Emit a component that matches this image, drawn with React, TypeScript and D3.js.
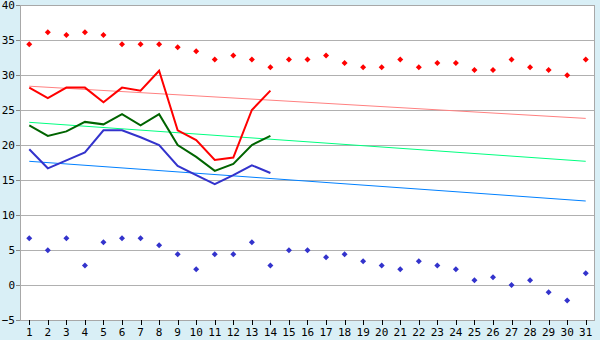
import React from "react";
import * as d3 from "d3";

const days = d3.range(1, 32).map(String);
const yTicks = [-5, 0, 5, 10, 15, 20, 25, 30, 35, 40];

// record highs / lows (markers)
const recordMax = [34.4, 36.1, 35.7, 36.1, 35.7, 34.4, 34.4, 34.4, 33.95, 33.4, 32.2, 32.8, 32.2, 31.1, 32.2, 32.2, 32.8, 31.7, 31.1, 31.1, 32.2, 31.1, 31.7, 31.7, 30.7, 30.7, 32.2, 31.1, 30.7, 29.95, 32.2];
const recordMin = [6.67, 4.95, 6.67, 2.8, 6.1, 6.67, 6.67, 5.67, 4.4, 2.24, 4.4, 4.4, 6.1, 2.8, 4.95, 4.95, 3.95, 4.4, 3.38, 2.8, 2.24, 3.38, 2.8, 2.24, 0.67, 1.1, 0.0, 0.67, -1.05, -2.2, 1.67];

// actual values (days 1-14)
const actualMax = [28.2, 26.7, 28.2, 28.2, 26.1, 28.2, 27.76, 30.6, 22.1, 20.7, 17.86, 18.2, 25.0, 27.76];
const actualMean = [22.8, 21.3, 21.95, 23.3, 22.95, 24.4, 22.8, 24.4, 20.0, 18.3, 16.3, 17.3, 20.0, 21.3];
const actualMin = [19.4, 16.67, 17.8, 18.95, 22.1, 22.1, 21.1, 20.0, 17.0, 15.7, 14.4, 15.7, 17.1, 16.0];

// normals (trend: value on day 1 and day 31)
const normalMax = [28.4, 23.8];
const normalMean = [23.24, 17.67];
const normalMin = [17.67, 12.0];

const W = 600, H = 340;
const L = 20, R = 595, T = 5, B = 320;

export default function App() {
  const x = d3.scaleBand<string>().domain(days).range([L, R]).padding(0);
  const cx = (d: string) => (x(d) as number) + x.bandwidth() / 2;
  const y = d3.scaleLinear().domain([-5, 40]).range([B, T]);

  const line = d3
    .line<number>()
    .x((_, i) => cx(days[i]))
    .y((v) => y(v));

  const trend = (vals: number[]) =>
    d3
      .line<number>()
      .x((_, i) => cx(i === 0 ? days[0] : days[days.length - 1]))
      .y((v) => y(v))(vals) as string;

  const diamond = (px: number, py: number) =>
    `M${px},${py - 3}L${px + 3},${py}L${px},${py + 3}L${px - 3},${py}Z`;

  const font = "'DejaVu Sans Mono', monospace";

  return (
    <svg
      width={W}
      height={H}
      style={{ position: "absolute", left: 0, top: 0, display: "block" }}
    >
      <rect x={0} y={0} width={W} height={H} fill="#D9EFF6" />
      <rect x={L} y={T} width={R - L} height={B - T} fill="#ffffff" />
      {yTicks.map((t) => (
        <line
          key={"g" + t}
          x1={L}
          x2={R}
          y1={Math.round(y(t)) + 0.5}
          y2={Math.round(y(t)) + 0.5}
          stroke="#B0B0B0"
          strokeWidth={1}
        />
      ))}
      <rect
        x={L + 0.5}
        y={T + 0.5}
        width={R - L - 1}
        height={B - T}
        fill="none"
        stroke="#A8A8A8"
        strokeWidth={1}
      />
      {/* y axis ticks & labels */}
      {yTicks.map((t) => (
        <g key={"y" + t}>
          <line x1={L - 4} x2={L} y1={Math.round(y(t)) + 0.5} y2={Math.round(y(t)) + 0.5} stroke="#888" />
          <text
            x={L - 5}
            y={y(t)}
            dy="0.36em"
            textAnchor="end"
            fontFamily={font}
            fontSize={11}
            fill="#000"
          >
            {t < 0 ? "\u2212" + Math.abs(t) : t}
          </text>
        </g>
      ))}
      {/* x axis ticks & labels */}
      {days.map((d) => (
        <g key={"x" + d}>
          <line x1={Math.round(cx(d)) + 0.5} x2={Math.round(cx(d)) + 0.5} y1={B} y2={B + 5} stroke="#000" />
          <text
            x={cx(d)}
            y={B + 16}
            textAnchor="middle"
            fontFamily={font}
            fontSize={11}
            fill="#000"
          >
            {d}
          </text>
        </g>
      ))}
      {/* normals */}
      <path d={trend(normalMax)} fill="none" stroke="#FF8080" strokeWidth={1} />
      <path d={trend(normalMean)} fill="none" stroke="#00FF80" strokeWidth={1} />
      <path d={trend(normalMin)} fill="none" stroke="#0080FF" strokeWidth={1} />
      {/* actuals */}
      <path d={line(actualMin) as string} fill="none" stroke="#3333CC" strokeWidth={2} />
      <path d={line(actualMean) as string} fill="none" stroke="#006400" strokeWidth={2} />
      <path d={line(actualMax) as string} fill="none" stroke="#FF0000" strokeWidth={2} />
      {/* records */}
      {recordMax.map((v, i) => (
        <path key={"rm" + i} d={diamond(cx(days[i]), y(v))} fill="#FF0000" />
      ))}
      {recordMin.map((v, i) => (
        <path key={"rn" + i} d={diamond(cx(days[i]), y(v))} fill="#3333CC" />
      ))}
    </svg>
  );
}
